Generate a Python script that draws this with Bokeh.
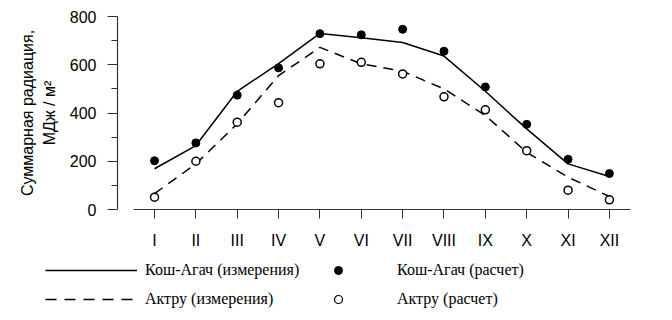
from bokeh.plotting import figure
from bokeh.models import FixedTicker, Legend, LegendItem, ColumnDataSource
from bokeh.layouts import column
from bokeh.embed import file_html
from bokeh.resources import INLINE

months = ["I", "II", "III", "IV", "V", "VI", "VII", "VIII", "IX", "X", "XI", "XII"]
month_num = list(range(1, 13))
kosh_meas = [169, 265, 490, 605, 730, 712, 692, 636, 490, 334, 189, 137]
aktru_meas = [66, 189, 355, 555, 672, 604, 573, 500, 390, 237, 134, 54]
kosh_calc = [202, 276, 474, 587, 729, 724, 747, 656, 508, 353, 208, 149]
aktru_calc = [51, 200, 362, 443, 604, 610, 562, 467, 413, 244, 80, 40]
y_ticks = [0, 200, 400, 600, 800]
y_minor = [100, 300, 500, 700]
labels = ["Кош-Агач (измерения)", "Актру (измерения)", "Кош-Агач (расчет)", "Актру (расчет)"]

src = ColumnDataSource(dict(x=month_num, km=kosh_meas, am=aktru_meas, kc=kosh_calc, ac=aktru_calc))

p = figure(width=660, height=258, output_backend="svg", toolbar_location=None,
           x_range=(0.105, 12.51), y_range=(0, 800),
           min_border_left=117, min_border_right=30, min_border_top=16, min_border_bottom=49)
p.frame_align = False
p.outline_line_color = None
p.xgrid.visible = False
p.ygrid.visible = False

p.line("x", "km", source=src, line_color="black", line_width=1.5)
p.line("x", "am", source=src, line_color="black", line_width=1.5, line_dash="10 7")
p.scatter("x", "kc", source=src, size=8, fill_color="black", line_color="black")
p.scatter("x", "ac", source=src, size=8, fill_color="white", line_color="black", line_width=1.5)

xa = p.xaxis[0]
xa.ticker = FixedTicker(ticks=month_num)
xa.major_label_overrides = {m: lab for m, lab in zip(month_num, months)}
xa.bounds = (0.5, 12.5)
xa.minor_tick_line_color = None
xa.major_tick_in = 0
xa.major_tick_out = 9
xa.major_label_standoff = 13
xa.major_label_text_font = "Liberation Sans"
xa.major_label_text_font_size = "16px"
xa.major_label_text_color = "black"
xa.axis_line_color = "#333333"
xa.major_tick_line_color = "#333333"
xa.axis_line_width = 1.2

ya = p.yaxis[0]
ya.ticker = FixedTicker(ticks=y_ticks, minor_ticks=y_minor)
ya.major_tick_in = 0
ya.major_tick_out = 10
ya.minor_tick_in = 0
ya.minor_tick_out = 6
ya.major_label_standoff = 11
ya.major_label_text_font = "Liberation Sans"
ya.major_label_text_font_size = "16px"
ya.major_label_text_color = "black"
ya.axis_line_color = "#333333"
ya.major_tick_line_color = "#333333"
ya.minor_tick_line_color = "#333333"
ya.axis_line_width = 1.2
ya.axis_label = "Суммарная радиация,\nМДж / м²"
ya.axis_label_text_font = "Liberation Sans"
ya.axis_label_text_font_size = "16px"
ya.axis_label_text_font_style = "normal"
ya.axis_label_text_color = "black"
ya.axis_label_text_line_height = 1.3
ya.axis_label_standoff = 9

# legend strip below the chart
lf = figure(width=660, height=60, output_backend="svg", toolbar_location=None,
            x_range=(0, 1), y_range=(0, 1), x_axis_type=None, y_axis_type=None,
            min_border=0, min_border_left=0, min_border_right=0,
            min_border_top=0, min_border_bottom=0)
lf.frame_align = False
lf.outline_line_color = None
lf.xgrid.visible = False
lf.ygrid.visible = False
nan = float("nan")
blank = ColumnDataSource(dict(x=[nan], y=[nan]))
l1 = lf.line("x", "y", source=blank, line_color="black", line_width=1.3)
l2 = lf.line("x", "y", source=blank, line_color="black", line_width=1.3, line_dash="11 8")
l3 = lf.scatter("x", "y", source=blank, size=6, fill_color="black", line_color="black")
l4 = lf.scatter("x", "y", source=blank, size=6, fill_color="white", line_color="black", line_width=1.2)

def mk_legend(items, x, glyph_w, standoff):
    lg = Legend(items=items, location=(x, 9), glyph_width=glyph_w, glyph_height=20,
                label_height=20, spacing=9, padding=0, margin=0, label_standoff=standoff,
                label_text_font="Liberation Serif", label_text_font_size="16px",
                label_text_color="black",
                border_line_color=None, background_fill_alpha=0)
    lf.add_layout(lg, "center")

mk_legend([LegendItem(label=labels[0], renderers=[l1]),
           LegendItem(label=labels[1], renderers=[l2])], 45, 92, 8)
mk_legend([LegendItem(label=labels[2], renderers=[l3]),
           LegendItem(label=labels[3], renderers=[l4])], 318, 40, 39)

layout = column(p, lf, spacing=0)
open("out.html", "w").write(file_html(layout, INLINE))
